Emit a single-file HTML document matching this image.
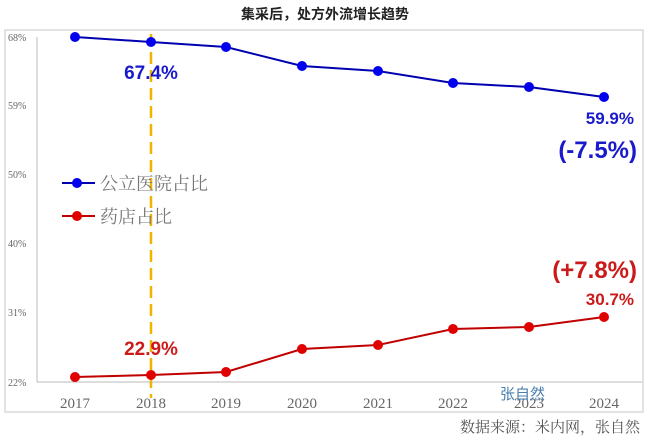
<!DOCTYPE html>
<html><head><meta charset="utf-8"><style>
body{margin:0;background:#fff;}
svg text{font-family:"Liberation Sans","Noto Sans CJK SC",sans-serif;}
svg text.s{font-family:"Liberation Serif","Noto Serif CJK SC",serif;}
</style></head><body>
<svg width="650" height="440" xmlns="http://www.w3.org/2000/svg">
<rect x="0" y="0" width="650" height="440" fill="#fff"/>
<text x="325" y="19" text-anchor="middle" font-size="14" font-weight="bold" fill="#222">集采后，处方外流增长趋势</text>
<rect x="5" y="30" width="638" height="382" fill="none" stroke="#d8d8d8" stroke-width="1.5"/>
<line x1="37" y1="37" x2="37" y2="382" stroke="#bbb"/>
<line x1="37" y1="382" x2="642" y2="382" stroke="#bbb"/>
<g font-size="10" fill="#666">
<text class="s" x="8" y="41">68%</text><text class="s" x="8" y="109">59%</text><text class="s" x="8" y="178">50%</text>
<text class="s" x="8" y="247">40%</text><text class="s" x="8" y="316">31%</text><text class="s" x="8" y="386">22%</text>
</g>
<g font-size="15" fill="#666" text-anchor="middle">
<text class="s" x="75" y="408">2017</text><text class="s" x="151" y="408">2018</text><text class="s" x="226" y="408">2019</text><text class="s" x="302" y="408">2020</text>
<text class="s" x="378" y="408">2021</text><text class="s" x="453" y="408">2022</text><text class="s" x="529" y="408">2023</text><text class="s" x="604" y="408">2024</text>
</g>
<line x1="151" y1="34" x2="151" y2="398" stroke="#f0b400" stroke-width="2.5" stroke-dasharray="12,6"/>
<polyline points="75,37 151,42 226,47 302,66 378,71 453,83 529,87 604,97" fill="none" stroke="#0000b0" stroke-width="2"/>
<g fill="#0000ee"><circle cx="75" cy="37" r="5"/><circle cx="151" cy="42" r="5"/><circle cx="226" cy="47" r="5"/><circle cx="302" cy="66" r="5"/><circle cx="378" cy="71" r="5"/><circle cx="453" cy="83" r="5"/><circle cx="529" cy="87" r="5"/><circle cx="604" cy="97" r="5"/></g>
<polyline points="75,377 151,375 226,372 302,349 378,345 453,329 529,327 604,317" fill="none" stroke="#c00000" stroke-width="2"/>
<g fill="#e00000"><circle cx="75" cy="377" r="5"/><circle cx="151" cy="375" r="5"/><circle cx="226" cy="372" r="5"/><circle cx="302" cy="349" r="5"/><circle cx="378" cy="345" r="5"/><circle cx="453" cy="329" r="5"/><circle cx="529" cy="327" r="5"/><circle cx="604" cy="317" r="5"/></g>
<g font-weight="bold">
<text x="151" y="79" text-anchor="middle" font-size="19" fill="#1a1acc">67.4%</text>
<text x="634" y="124" text-anchor="end" font-size="17" fill="#1a1acc">59.9%</text>
<text x="637" y="158" text-anchor="end" font-size="24" fill="#1a1acc">(-7.5%)</text>
<text x="151" y="355" text-anchor="middle" font-size="19" fill="#cc1a1a">22.9%</text>
<text x="637" y="278" text-anchor="end" font-size="24" fill="#cc1a1a">(+7.8%)</text>
<text x="634" y="305" text-anchor="end" font-size="17" fill="#cc1a1a">30.7%</text>
</g>
<line x1="62" y1="183" x2="95" y2="183" stroke="#0000b0" stroke-width="2"/><circle cx="77" cy="183" r="5" fill="#0000ee"/>
<text class="s" x="100" y="190" font-size="18" fill="#777">公立医院占比</text>
<line x1="62" y1="216" x2="95" y2="216" stroke="#c00000" stroke-width="2"/><circle cx="77" cy="216" r="5" fill="#e00000"/>
<text class="s" x="100" y="223" font-size="18" fill="#777">药店占比</text>
<text x="500" y="399" font-size="15" fill="#4a7fb0">张自然</text>
<text class="s" x="640" y="432" text-anchor="end" font-size="15" fill="#555">数据来源：米内网，张自然</text>
</svg>
</body></html>
